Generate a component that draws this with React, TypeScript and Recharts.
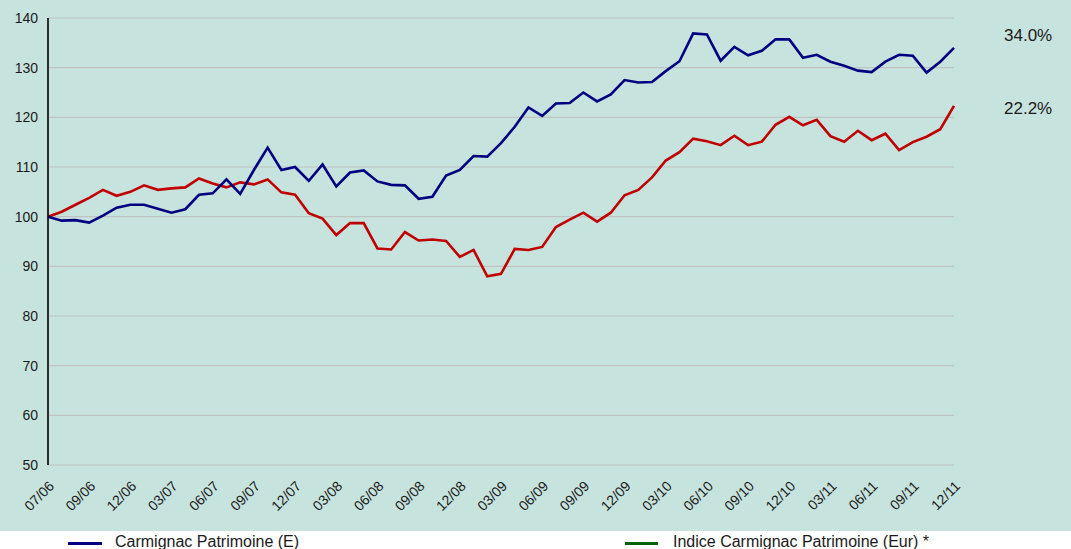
import React from 'react';
import { LineChart, Line, XAxis, YAxis, CartesianGrid } from 'recharts';

const TICK_LABELS = [
  '07/06', '09/06', '12/06', '03/07', '06/07', '09/07', '12/07', '03/08',
  '06/08', '09/08', '12/08', '03/09', '06/09', '09/09', '12/09', '03/10',
  '06/10', '09/10', '12/10', '03/11', '06/11', '09/11', '12/11',
];

// Carmignac Patrimoine (E), base 100, monthly
const FUND = [
  100.0, 99.2, 99.3, 98.8, 100.2, 101.8, 102.4, 102.4, 101.6, 100.8,
  101.5, 104.4, 104.7, 107.5, 104.6, 109.4, 113.9, 109.4, 110.0, 107.2,
  110.5, 106.1, 108.9, 109.3, 107.1, 106.4, 106.3, 103.6, 104.0, 108.3,
  109.4, 112.2, 112.1, 114.8, 118.1, 122.0, 120.3, 122.8, 122.9, 125.0,
  123.2, 124.6, 127.5, 127.0, 127.1, 129.3, 131.3, 136.9, 136.7, 131.4,
  134.2, 132.5, 133.4, 135.7, 135.7, 132.0, 132.6, 131.2, 130.4, 129.4,
  129.1, 131.2, 132.6, 132.4, 129.0, 131.2, 134.0,
];

// Indice Carmignac Patrimoine (Eur)
const BENCH = [
  100.0, 101.0, 102.4, 103.8, 105.4, 104.2, 105.0, 106.3, 105.4, 105.7,
  105.9, 107.7, 106.7, 105.9, 106.9, 106.5, 107.5, 104.9, 104.4, 100.7,
  99.6, 96.3, 98.7, 98.7, 93.6, 93.4, 96.9, 95.2, 95.4, 95.1,
  91.9, 93.3, 88.0, 88.5, 93.5, 93.3, 93.9, 97.9, 99.4, 100.8,
  99.0, 100.8, 104.3, 105.4, 107.9, 111.3, 113.0, 115.7, 115.2, 114.4,
  116.3, 114.4, 115.1, 118.5, 120.1, 118.4, 119.5, 116.2, 115.1, 117.3,
  115.4, 116.7, 113.4, 115.0, 116.1, 117.6, 122.3,
];

const Y_TICKS = [50, 60, 70, 80, 90, 100, 110, 120, 130, 140];
const PERF_LABELS = ['34.0%', '22.2%'];

const data = FUND.map((v, i) => ({ idx: i, fund: v, bench: BENCH[i] }));
const xTicks = TICK_LABELS.map((_, k) => k * 3);

const FONT = '"Liberation Sans", Arial, sans-serif';
const TEXT = '#1a1a1a';

const XTick = (props: any) => {
  const { x, y, payload } = props;
  const tx = x + 7;
  const ty = y + 22;
  return (
    <text
      x={tx}
      y={ty}
      transform={`rotate(-45, ${tx}, ${ty})`}
      textAnchor="end"
      fontSize={14}
      fontFamily={FONT}
      fill={TEXT}
    >
      {TICK_LABELS[payload.value / 3]}
    </text>
  );
};

export default function App() {
  return (
    <div
      style={{
        position: 'absolute',
        left: 0,
        top: 0,
        width: 1071,
        height: 549,
        overflow: 'hidden',
        background: '#fff',
        fontFamily: FONT,
      }}
    >
      <div style={{ position: 'absolute', left: 0, top: 0, width: 1071, height: 531, background: '#c7e3dd' }} />
      <div style={{ position: 'absolute', left: 0, top: 0 }}>
        <LineChart width={1071} height={531} data={data} margin={{ top: 18, right: 117, left: 0, bottom: 0 }}>
          <CartesianGrid vertical={false} stroke="#bfc4c2" strokeWidth={1.2} />
          <XAxis
            dataKey="idx"
            type="number"
            domain={[0, 66]}
            ticks={xTicks}
            interval={0}
            axisLine={false}
            tickLine={false}
            tickSize={0}
            tickMargin={0}
            height={66}
            tick={<XTick />}
          />
          <YAxis
            domain={[50, 140]}
            ticks={Y_TICKS}
            interval={0}
            width={48}
            axisLine={{ stroke: '#000', strokeWidth: 1.6 }}
            tickLine={false}
            tickSize={0}
            tickMargin={10}
            tick={{ fontSize: 14, fill: TEXT, fontFamily: FONT }}
          />
          <Line
            dataKey="bench"
            stroke="#c00000"
            strokeWidth={2.6}
            dot={false}
            type="linear"
            isAnimationActive={false}
          />
          <Line
            dataKey="fund"
            stroke="#000080"
            strokeWidth={2.6}
            dot={false}
            type="linear"
            isAnimationActive={false}
          />
        </LineChart>
      </div>

      <div style={{ position: 'absolute', left: 1004, top: 27, fontSize: 17, lineHeight: '17px', color: TEXT }}>
        {PERF_LABELS[0]}
      </div>
      <div style={{ position: 'absolute', left: 1004, top: 100, fontSize: 17, lineHeight: '17px', color: TEXT }}>
        {PERF_LABELS[1]}
      </div>

      <div style={{ position: 'absolute', left: 68, top: 542, width: 34, height: 3, background: '#000080' }} />
      <div style={{ position: 'absolute', left: 115, top: 534, fontSize: 16, lineHeight: '16px', color: TEXT, whiteSpace: 'nowrap' }}>
        Carmignac Patrimoine (E)
      </div>
      <div style={{ position: 'absolute', left: 625, top: 542, width: 33, height: 3, background: '#006400' }} />
      <div style={{ position: 'absolute', left: 673, top: 534, fontSize: 16, lineHeight: '16px', color: TEXT, whiteSpace: 'nowrap' }}>
        Indice Carmignac Patrimoine (Eur) *
      </div>
    </div>
  );
}
